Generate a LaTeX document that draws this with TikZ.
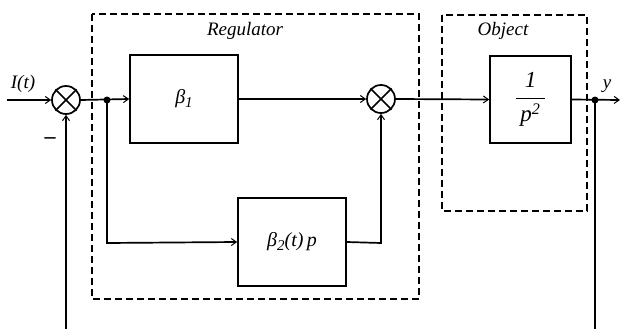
\documentclass[tikz,border=0pt]{standalone}
\usepackage{fontspec}
\usepackage{amsmath}
\setmainfont{Liberation Serif}
\usetikzlibrary{arrows.meta}
\begin{document}
\begin{tikzpicture}[x=1pt,y=-1pt, font=\fontsize{19}{22}\selectfont\itshape,
 blk/.style={draw, line width=1.7pt, inner sep=0pt},
 sumnode/.style={draw, circle, line width=1.7pt, minimum size=28pt, inner sep=0pt},
 ln/.style={line width=1.7pt},
 arr/.style={ln, -{Straight Barb[length=5pt,width=7pt,line width=1pt]}},
 grp/.style={line width=1.4pt, dash pattern=on 7pt off 4pt},
 dotnode/.style={circle, fill, inner sep=0pt, minimum size=7pt},
 lbl/.style={inner sep=0pt}]
\useasboundingbox (0,0) rectangle (621,329);
% groups
\draw[grp] (92,14) rectangle (419,299);
\draw[grp] (442,15) rectangle (587,211);
\node[lbl] (reg) at (245,31) {Regulator};
\node[lbl] (obj) at (503,31) {Object};
% blocks
\node[sumnode] (s1) at (66,100) {};
\node[sumnode] (s2) at (381,99) {};
\draw[ln] (s1.45) -- (s1.225) (s1.135) -- (s1.-45);
\draw[ln] (s2.45) -- (s2.225) (s2.135) -- (s2.-45);
\node[blk, minimum width=108pt, minimum height=88pt] (b1) at (184,99) {\fontsize{20}{22}\selectfont β\raisebox{-4pt}{\fontsize{15}{15}\selectfont 1}};
\node[blk, minimum width=108pt, minimum height=88pt] (b2) at (292,242) {\fontsize{20}{22}\selectfont β\raisebox{-4pt}{\fontsize{15}{15}\selectfont 2}(t)\,p};
\node[blk, minimum width=81pt, minimum height=87pt] (b3) at (530.5,99.5) {\fontsize{23}{26}\selectfont$\dfrac{\,\textit{1}\,}{\,\textit{p}^{\textit{2}}\,}$};
\node[dotnode] (d1) at (107,100) {};
\node[dotnode] (d2) at (595,100) {};
% labels
\node[lbl] (it) at (23,84) {I(t)};
\node[lbl] (minus) at (50,141) {\fontsize{22}{22}\selectfont\upshape\bfseries –};
\node[lbl] (yl) at (607,86) {y};
% free ends
\coordinate (in) at (7,100);
\coordinate (out) at (620,100);
\coordinate (fb1) at (66,329);
\coordinate (fb2) at (595,329);
\coordinate (c1) at (107,243);
\coordinate (c2) at (381,243);
% connectors
\draw[arr] (in) -- (s1.west);
\draw[arr] (s1.east) -- (b1.west);
\draw[arr] (d1.center) -- (c1) -- (b2.west);
\draw[arr] (b1.east) -- (s2.west);
\draw[arr] (b2.east) -- (c2) -- (s2.south);
\draw[arr] (s2.east) -- (b3.west);
\draw[arr] (b3.east) -- (out);
\draw[ln] (d2.center) -- (fb2);
\draw[arr] (fb1) -- (s1.south);
\end{tikzpicture}
\end{document}
